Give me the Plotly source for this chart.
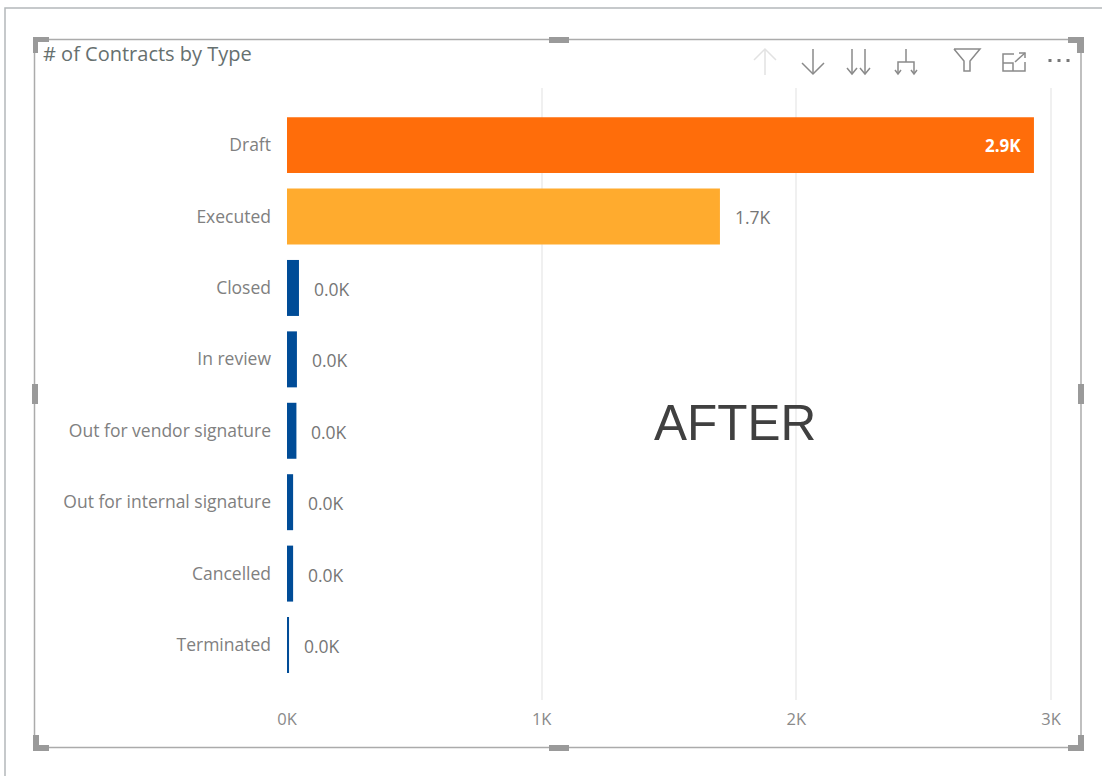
import plotly.graph_objects as go

categories = ["Draft", "Executed", "Closed", "In review", "Out for vendor signature",
              "Out for internal signature", "Cancelled", "Terminated"]
contracts = [2933, 1700, 47, 39, 37, 24, 24, 8]
bar_colors = ["#FF6D0A", "#FFAB2E", "#004C97", "#004C97", "#004C97", "#004C97", "#004C97", "#004C97"]
tick_vals = [0, 1000, 2000, 3000]
tick_text = ["0K", "1K", "2K", "3K"]
value_labels = ["2.9K", "1.7K", "0.0K", "0.0K", "0.0K", "0.0K", "0.0K", "0.0K"]

W, H = 1102, 776
FONT = "Open Sans, Noto Sans, sans-serif"


def X(p):
    return p / W


def Y(p):
    return 1 - p / H


def pth(points, close=False):
    s = "M " + " L ".join(f"{X(a):.5f},{Y(b):.5f}" for a, b in points)
    return s + (" Z" if close else "")


def line_shape(points, color="#8a8a8a", width=1.5):
    return dict(type="path", xref="paper", yref="paper", path=pth(points),
                line=dict(color=color, width=width), layer="above")


def fill_shape(points, color="#9a9a9a"):
    return dict(type="path", xref="paper", yref="paper", path=pth(points, True),
                fillcolor=color, line=dict(width=0), layer="above")


shapes = []
# outer page border
shapes.append(line_shape([(5, 776), (5, 8), (1102, 8)], "#b4b8ba", 1.5))
# visual frame
shapes.append(line_shape([(34.5, 39.5), (1081, 39.5), (1081, 747.5), (34.5, 747.5), (34.5, 39.5)], "#ababab", 1.5))
# corner handles
shapes.append(fill_shape([(33, 37), (49, 37), (49, 42), (38, 42), (38, 53), (33, 53)]))
shapes.append(fill_shape([(1068, 37), (1084, 37), (1084, 53), (1077, 53), (1077, 43), (1068, 43)]))
shapes.append(fill_shape([(33, 735), (39, 735), (39, 745), (49, 745), (49, 751), (33, 751)]))
shapes.append(fill_shape([(1084, 735), (1084, 751), (1068, 751), (1068, 745), (1078, 745), (1078, 735)]))
# side handles
shapes.append(fill_shape([(549, 37), (569, 37), (569, 43), (549, 43)]))
shapes.append(fill_shape([(549, 745), (569, 745), (569, 751), (549, 751)]))
shapes.append(fill_shape([(32, 384), (38, 384), (38, 404), (32, 404)]))
shapes.append(fill_shape([(1078, 384), (1084, 384), (1084, 404), (1078, 404)]))

# toolbar icons
ic = "#8a8a8a"
shapes.append(line_shape([(765, 49), (765, 75)], "#e2e2e2"))
shapes.append(line_shape([(754, 60), (765, 49), (776, 60)], "#e2e2e2"))
shapes.append(line_shape([(813, 49), (813, 74)], ic))
shapes.append(line_shape([(802, 63), (813, 74), (824, 63)], ic))
for x0 in (852, 865):
    shapes.append(line_shape([(x0, 49), (x0, 74)], ic))
    shapes.append(line_shape([(x0 - 5, 68), (x0, 74), (x0 + 5, 68)], ic))
shapes.append(line_shape([(906, 49), (906, 62)], ic))
shapes.append(line_shape([(898, 74), (898, 62), (914, 62), (914, 74)], ic))
shapes.append(line_shape([(895, 70), (898, 74), (901, 70)], ic))
shapes.append(line_shape([(911, 70), (914, 74), (917, 70)], ic))
shapes.append(line_shape([(954, 49), (980, 49), (970, 61), (970, 71), (964, 71), (964, 61), (954, 49)], ic))
shapes.append(line_shape([(1014, 54), (1003, 54), (1003, 71), (1025, 71), (1025, 62)], ic))
shapes.append(line_shape([(1003, 63), (1013, 63), (1013, 71)], ic))
shapes.append(line_shape([(1015, 62), (1025, 53)], ic))
shapes.append(line_shape([(1019, 53), (1025, 53), (1025, 58)], ic))
for x0 in (1050, 1059, 1068):
    shapes.append(fill_shape([(x0 - 1.5, 59), (x0 + 1.5, 59), (x0 + 1.5, 62), (x0 - 1.5, 62)], "#777777"))

fig = go.Figure(go.Bar(
    x=contracts, y=categories, orientation="h", width=0.784,
    marker=dict(color=bar_colors, line=dict(width=0)), hoverinfo="skip",
))

annotations = []
for i, (cat, val, lab) in enumerate(zip(categories, contracts, value_labels)):
    inside = i == 0
    annotations.append(dict(
        x=val, y=cat, xref="x", yref="y", text=f"<b>{lab}</b>" if inside else lab,
        showarrow=False, xanchor="right" if inside else "left",
        xshift=-11 if inside else 13, yshift=0 if i < 2 else -1,
        font=dict(family=FONT, size=17 if inside else 17.5, color="#ffffff" if inside else "#767676"),
    ))
annotations.append(dict(x=X(41), y=Y(54), xref="paper", yref="paper", text="# of Contracts by Type",
                        showarrow=False, xanchor="left", yanchor="middle",
                        font=dict(family=FONT, size=20, color="#66706f")))
annotations.append(dict(x=X(735), y=Y(423), xref="paper", yref="paper", text="AFTER",
                        showarrow=False, xanchor="center", yanchor="middle",
                        font=dict(family="Liberation Sans, Arial, sans-serif", size=49.5, color="#404040")))

fig.update_layout(
    width=W, height=H, margin=dict(l=0, r=0, t=0, b=0, autoexpand=False),
    paper_bgcolor="#ffffff", plot_bgcolor="#ffffff", showlegend=False,
    shapes=shapes, annotations=annotations,
    xaxis=dict(domain=[X(287), X(1062)], range=[0, (1062 - 287) / 254.67 * 1000],
               tickvals=tick_vals, ticktext=tick_text, showgrid=True, gridcolor="#f0f0f0", gridwidth=1.5,
               zeroline=False, showline=False, ticks="", ticklabelstandoff=7, anchor="y",
               tickfont=dict(family=FONT, size=16.5, color="#8a8a8a")),
    yaxis=dict(domain=[Y(700), Y(88)], range=[7.77, -0.8], type="category",
               categoryorder="array", categoryarray=categories, showgrid=False, zeroline=False,
               showline=False, ticks="", ticklabelstandoff=15, anchor="x",
               tickfont=dict(family=FONT, size=17.5, color="#808080")),
)

fig.write_html("out.html", config=dict(displayModeBar=False),
               post_script="document.body.style.margin='0';document.body.style.overflow='hidden';window.dispatchEvent(new Event('resize'));")
